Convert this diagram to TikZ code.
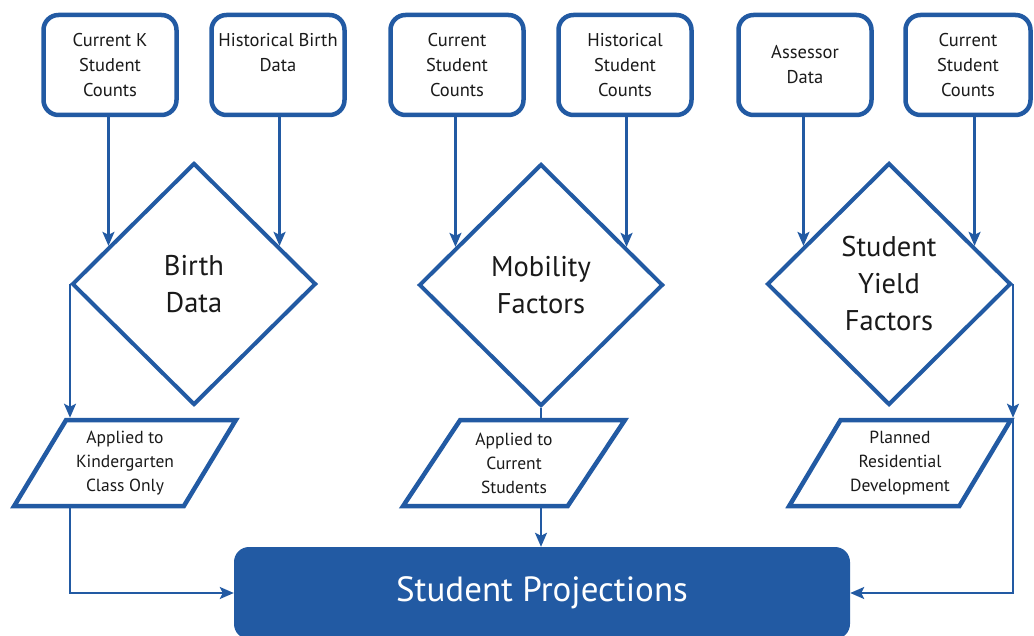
\documentclass[tikz,border=0pt]{standalone}
\usepackage{fontspec}
\setmainfont{PT Sans}
\usetikzlibrary{arrows.meta, positioning, calc, shapes.geometric}
\definecolor{brand}{HTML}{225AA3}
\definecolor{ink}{HTML}{1A1A1A}

\begin{document}
\begin{tikzpicture}[x=1pt, y=-1pt,
      src/.style={draw=brand, line width=4.5pt, rounded corners=15pt, fill=white, align=center,
        minimum width=133pt, minimum height=100pt, inner sep=0pt, text=ink,
        font=\fontsize{18.5}{25}\selectfont},
      dec/.style={diamond, aspect=1, draw=brand, line width=4pt, fill=white, align=center,
        minimum width=244pt, minimum height=242pt, inner sep=0pt, text=ink,
        font=\fontsize{28.5}{37}\selectfont},
      io/.style={trapezium, trapezium left angle=56, trapezium right angle=124,
        trapezium stretches=true, draw=brand, line width=4.5pt, fill=white, align=center,
        minimum width=222pt, minimum height=86pt, inner sep=0pt, text=ink,
        font=\fontsize{17.5}{24}\selectfont},
      result/.style={fill=brand, rounded corners=15pt, minimum width=616pt, minimum height=92pt,
        text=white, font=\fontsize{35}{40}\selectfont},
      arr/.style={-{Stealth[length=14pt, width=12pt, inset=3pt]}, line width=2.2pt, draw=brand},
      link/.style={line width=2.2pt, draw=brand}]
    \useasboundingbox (0,0) rectangle (1034,636);
    % inputs
    \node[src] (k1) at (110,65) {Current K\\Student\\Counts};
    \node[src] (h1) at (278,65) {Historical Birth\\Data\\\mbox{}};
    \node[src] (c2) at (457,65) {Current\\Student\\Counts};
    \node[src] (h2) at (625,65) {Historical\\Student\\Counts};
    \node[src] (a3) at (805,65) {Assessor\\Data};
    \node[src, minimum width=125pt] (c3) at (968,65) {Current\\Student\\Counts};
    % factors
    \node[dec] (birth) at (194,284) {Birth\\Data};
    \node[dec] (mobility) at (541,285) {Mobility\\Factors};
    \node[dec] (yield) at (889,284) {Student\\Yield\\Factors};
    % how they are applied
    \node[io] (kinder) at (125,463) {Applied to\\Kindergarten\\Class Only};
    \node[io] (mobile) at (514,463) {Applied to\\Current\\Students};
    \node[io] (planned) at (900,463) {Planned\\Residential\\Development};
    \node[result] (proj) at (542,593) {\raisebox{-3pt}{Student Projections}};
    % entry points on the diamond edges
    \coordinate (e1) at ($(birth.west)!.31!(birth.north)$);
    \coordinate (e2) at ($(birth.east)!.31!(birth.north)$);
    \coordinate (e3) at ($(mobility.west)!.31!(mobility.north)$);
    \coordinate (e4) at ($(mobility.east)!.31!(mobility.north)$);
    \coordinate (e5) at ($(yield.west)!.31!(yield.north)$);
    \coordinate (e6) at ($(yield.east)!.31!(yield.north)$);
    \draw[arr] (k1.south -| e1) -- (e1);
    \draw[arr] (h1.south -| e2) -- (e2);
    \draw[arr] (c2.south -| e3) -- (e3);
    \draw[arr] (h2.south -| e4) -- (e4);
    \draw[arr] (a3.south -| e5) -- (e5);
    \draw[arr] (c3.south -| e6) -- (e6);
    \draw[arr] (birth.west) -- (birth.west |- kinder.north);
    \draw[link] (mobility.south) -- (mobility.south |- mobile.north);
    \draw[arr] (yield.east) -- (yield.east |- planned.north);
    \draw[arr] (birth.west |- kinder.south) |- (proj.west);
    \draw[arr] (mobility.south |- mobile.south) -- (mobility.south |- proj.north);
    \draw[arr] (yield.east |- planned.north) |- (proj.east);
  \end{tikzpicture}
\end{document}
